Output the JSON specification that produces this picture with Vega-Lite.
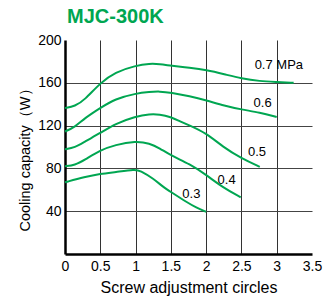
{
  "$schema": "https://vega.github.io/schema/vega-lite/v6.json",
  "width": 247,
  "height": 214,
  "autosize": "none",
  "padding": {"left": 65, "top": 40, "right": 11, "bottom": 43},
  "title": {
    "text": "MJC-300K",
    "anchor": "start",
    "frame": "group",
    "dx": 2,
    "offset": -10,
    "baseline": "alphabetic",
    "font": "Liberation Sans",
    "fontSize": 20,
    "fontWeight": "bold",
    "color": "#00a651"
  },
  "config": {
    "view": {"stroke": null},
    "font": "Liberation Sans"
  },
  "datasets": {
    "curves": [
      {"p": "0.7", "x": 0, "y": 136.5}, {"p": "0.7", "x": 0.14, "y": 138}, {"p": "0.7", "x": 0.28, "y": 144}, {"p": "0.7", "x": 0.5, "y": 160}, {"p": "0.7", "x": 0.71, "y": 170}, {"p": "0.7", "x": 1.0, "y": 176}, {"p": "0.7", "x": 1.2, "y": 178}, {"p": "0.7", "x": 1.34, "y": 177.5}, {"p": "0.7", "x": 1.5, "y": 176}, {"p": "0.7", "x": 1.77, "y": 174}, {"p": "0.7", "x": 2.0, "y": 172}, {"p": "0.7", "x": 2.26, "y": 168}, {"p": "0.7", "x": 2.5, "y": 164}, {"p": "0.7", "x": 2.76, "y": 161.5}, {"p": "0.7", "x": 3.0, "y": 160.8}, {"p": "0.7", "x": 3.24, "y": 160},
      {"p": "0.6", "x": 0, "y": 114.5}, {"p": "0.6", "x": 0.14, "y": 118.6}, {"p": "0.6", "x": 0.28, "y": 127}, {"p": "0.6", "x": 0.5, "y": 136.5}, {"p": "0.6", "x": 0.71, "y": 145}, {"p": "0.6", "x": 1.0, "y": 150}, {"p": "0.6", "x": 1.2, "y": 151.5}, {"p": "0.6", "x": 1.34, "y": 152}, {"p": "0.6", "x": 1.5, "y": 151}, {"p": "0.6", "x": 1.77, "y": 147.4}, {"p": "0.6", "x": 2.0, "y": 143.6}, {"p": "0.6", "x": 2.26, "y": 138.6}, {"p": "0.6", "x": 2.5, "y": 135}, {"p": "0.6", "x": 2.76, "y": 132.3}, {"p": "0.6", "x": 3.0, "y": 128},
      {"p": "0.5", "x": 0, "y": 98}, {"p": "0.5", "x": 0.14, "y": 99.4}, {"p": "0.5", "x": 0.28, "y": 105}, {"p": "0.5", "x": 0.5, "y": 113}, {"p": "0.5", "x": 0.71, "y": 121.7}, {"p": "0.5", "x": 1.0, "y": 128.6}, {"p": "0.5", "x": 1.2, "y": 130.8}, {"p": "0.5", "x": 1.34, "y": 130.5}, {"p": "0.5", "x": 1.5, "y": 128}, {"p": "0.5", "x": 1.63, "y": 124}, {"p": "0.5", "x": 1.77, "y": 120}, {"p": "0.5", "x": 2.0, "y": 113}, {"p": "0.5", "x": 2.24, "y": 100}, {"p": "0.5", "x": 2.5, "y": 89.4}, {"p": "0.5", "x": 2.76, "y": 81.5},
      {"p": "0.4", "x": 0, "y": 82}, {"p": "0.4", "x": 0.14, "y": 83}, {"p": "0.4", "x": 0.28, "y": 88}, {"p": "0.4", "x": 0.5, "y": 97}, {"p": "0.4", "x": 0.71, "y": 102}, {"p": "0.4", "x": 1.0, "y": 105.5}, {"p": "0.4", "x": 1.2, "y": 103.5}, {"p": "0.4", "x": 1.34, "y": 99}, {"p": "0.4", "x": 1.5, "y": 92}, {"p": "0.4", "x": 1.77, "y": 84}, {"p": "0.4", "x": 2.0, "y": 74}, {"p": "0.4", "x": 2.24, "y": 62}, {"p": "0.4", "x": 2.49, "y": 53},
      {"p": "0.3", "x": 0, "y": 67}, {"p": "0.3", "x": 0.28, "y": 72}, {"p": "0.3", "x": 0.5, "y": 75}, {"p": "0.3", "x": 0.71, "y": 76.5}, {"p": "0.3", "x": 1.0, "y": 79}, {"p": "0.3", "x": 1.06, "y": 78}, {"p": "0.3", "x": 1.25, "y": 70.6}, {"p": "0.3", "x": 1.39, "y": 62.7}, {"p": "0.3", "x": 1.5, "y": 58}, {"p": "0.3", "x": 1.72, "y": 48.6}, {"p": "0.3", "x": 1.86, "y": 43.3}, {"p": "0.3", "x": 2.0, "y": 39.5}
    ],
    "labels": [
      {"x": 3.03, "y": 177, "t": "0.7 MPa"},
      {"x": 2.8, "y": 141.5, "t": "0.6"},
      {"x": 2.72, "y": 95, "t": "0.5"},
      {"x": 2.29, "y": 69, "t": "0.4"},
      {"x": 1.79, "y": 56, "t": "0.3"}
    ]
  },
  "encoding": {
    "x": {
      "field": "x", "type": "quantitative",
      "scale": {"domain": [0, 3.5], "nice": false, "zero": false},
      "axis": {
        "values": [0, 0.5, 1, 1.5, 2, 2.5, 3, 3.5],
        "format": "~g",
        "labelOverlap": false,
        "title": "Screw adjustment circles",
        "titleFont": "Liberation Sans",
        "titleFontSize": 16,
        "titleFontWeight": "normal",
        "titleColor": "#000",
        "titlePadding": 6,
        "labelFont": "Liberation Sans",
        "labelFontSize": 14,
        "labelColor": "#000",
        "labelPadding": 5,
        "labelFlush": false,
        "ticks": false,
        "tickSize": 0,
        "domainColor": "#000",
        "domainWidth": 2.5,
        "grid": true,
        "gridColor": "#333",
        "gridWidth": 1,
        "gridOpacity": {"condition": {"test": "datum.value == 0 || datum.value == 3.5", "value": 0}, "value": 1}
      }
    },
    "y": {
      "field": "y", "type": "quantitative",
      "scale": {"domain": [0, 200], "nice": false},
      "axis": {
        "values": [40, 80, 120, 160, 200],
        "labelOverlap": false,
        "title": "Cooling capacity（W）",
        "titleFont": "Liberation Sans",
        "titleFontSize": 14.5,
        "titleFontWeight": "normal",
        "titleColor": "#000",
        "titlePadding": 5,
        "titleY": 116,
        "labelFont": "Liberation Sans",
        "labelFontSize": 14,
        "labelColor": "#000",
        "labelPadding": 4,
        "labelFlush": false,
        "ticks": false,
        "tickSize": 0,
        "domainColor": "#000",
        "domainWidth": 2.5,
        "grid": true,
        "gridColor": "#444",
        "gridWidth": 1,
        "gridOpacity": {"condition": {"test": "datum.value == 200", "value": 0}, "value": 1}
      }
    }
  },
  "layer": [
    {
      "data": {"name": "curves"},
      "mark": {"type": "line", "interpolate": "basis", "color": "#00a651", "strokeWidth": 2},
      "encoding": {
        "detail": {"field": "p", "type": "nominal"}
      }
    },
    {
      "data": {"name": "labels"},
      "mark": {"type": "text", "font": "Liberation Sans", "fontSize": 13, "color": "#000", "align": "center", "baseline": "middle"},
      "encoding": {
        "text": {"field": "t", "type": "nominal"}
      }
    }
  ]
}
